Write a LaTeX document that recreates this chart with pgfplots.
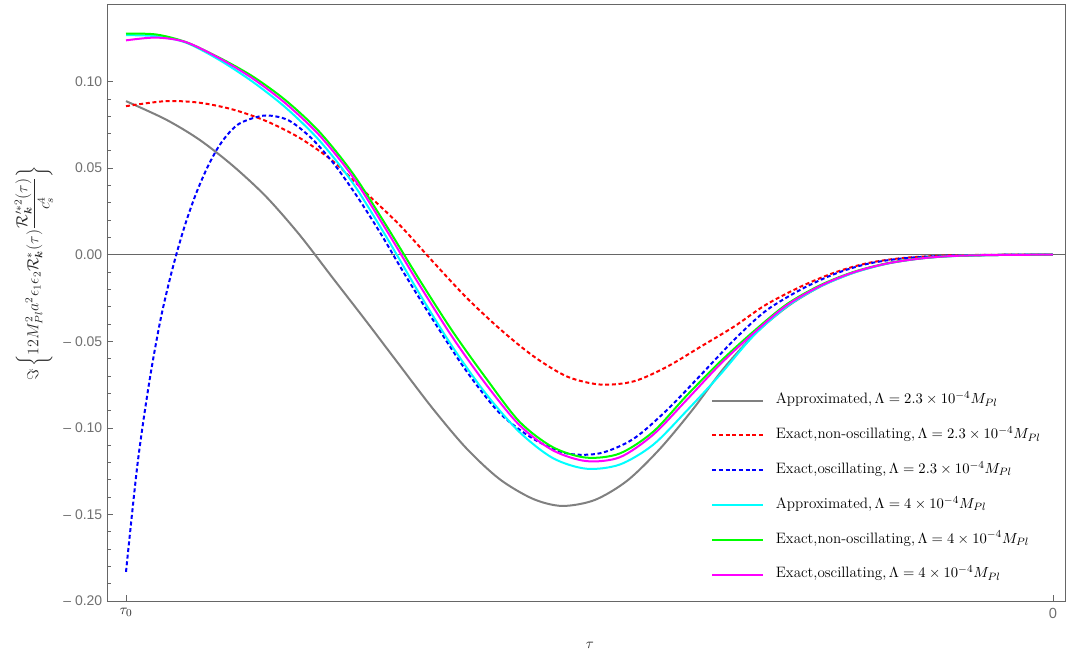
\documentclass[border=0pt]{standalone}
\usepackage{amsmath,amssymb}
\usepackage{pgfplots}
\pgfplotsset{compat=1.18}
\usepackage{fontspec}
\newfontfamily\tickfont{Liberation Sans}
\definecolor{framegray}{RGB}{102,102,102}
\definecolor{tickgray}{RGB}{112,112,112}
\definecolor{curvegray}{RGB}{128,128,128}
\definecolor{textdark}{RGB}{40,40,40}
\definecolor{cRed}{RGB}{255,0,0}
\definecolor{cBlue}{RGB}{0,0,255}
\definecolor{cCyan}{RGB}{0,255,255}
\definecolor{cGreen}{RGB}{0,255,0}
\definecolor{cMagenta}{RGB}{255,0,255}

\pgfplotsset{
  solidcurve/.style={line width=1.5pt, smooth},
  dashcurve/.style={line width=1.5pt, smooth, dash pattern=on 3pt off 2pt},
}

\begin{document}
\begin{tikzpicture}
\useasboundingbox (-80.25pt,-42pt) rectangle (719.25pt,450.75pt);
\begin{axis}[
  scale only axis,
  width=718.5pt, height=447.75pt,
  xmin=-0.0205, xmax=1.013,
  ymin=-0.2, ymax=0.1448,
  axis line style={framegray, line width=0.6pt},
  tick pos=left,
  tick align=inside,
  tick style={framegray, line width=0.5pt},
  major tick length=4.5pt,
  minor tick length=2.8pt,
  xtick={0,1},
  xticklabels={{\color{textdark}$\tau_0$}, {\color{tickgray}\tickfont 0}},
  xticklabel style={font=\fontsize{11}{13}\selectfont, yshift=-2pt},
  ytick={-0.2,-0.15,-0.1,-0.05,0,0.05,0.1},
  yticklabels={\textendash\ 0.20, \textendash\ 0.15, \textendash\ 0.10, \textendash\ 0.05, 0.00, 0.05, 0.10},
  yticklabel style={font=\tickfont\fontsize{10.5}{12}\selectfont, text=tickgray},
  minor y tick num=4,
  extra y ticks={0},
  extra y tick labels={},
  extra y tick style={grid=major, major grid style={framegray, line width=0.5pt}, major tick length=0pt},
  every axis y label/.style={at={(axis description cs:-0.0762,0.549)}, rotate=90, anchor=center},
  every axis x label/.style={at={(axis description cs:0.504,-0.0737)}, anchor=center},
  ylabel={\color{textdark}\fontsize{11.5}{14}\selectfont$\Im\left\{12M_{Pl}^2a^2\epsilon_1\epsilon_2\mathcal{R}_{\boldsymbol{k}}^*(\tau)\dfrac{\mathcal{R}_{\boldsymbol{k}}^{\prime *2}(\tau)}{c_s^4}\right\}$},
  xlabel={\color{textdark}\fontsize{11}{13}\selectfont$\tau$},
  legend cell align=left,
  legend image code/.code={\draw[#1] plot coordinates {(0pt,0pt) (19pt,0pt) (38pt,0pt)};},
  legend style={
    at={(axis description cs:0.6263,0.190)}, anchor=west,
    draw=none, fill=none,
    font=\fontsize{11.3}{13}\selectfont,
    row sep=15.1pt,
    nodes={inner sep=0pt, text height=8pt, text depth=3pt},
    /tikz/every odd column/.append style={column sep=9pt},
  },
]

% Approximated, Lambda = 2.3e-4 M_Pl
\addplot[curvegray, solidcurve] coordinates {
(0,0.0887)(0.043,0.0781)(0.079,0.0665)(0.115,0.0515)(0.1512,0.0335)
(0.1872,0.0115)(0.223,-0.0134)(0.259,-0.0383)(0.295,-0.0637)(0.331,-0.0889)
(0.367,-0.1117)(0.403,-0.1296)(0.439,-0.1410)(0.4705,-0.1451)(0.5055,-0.1417)
(0.5405,-0.1306)(0.5755,-0.1124)(0.6105,-0.0900)(0.6455,-0.0652)(0.6805,-0.0447)
(0.7155,-0.0292)(0.7505,-0.0180)(0.7855,-0.0103)(0.8205,-0.0052)(0.8555,-0.0023)
(0.8905,-0.0008)(0.95,-0.0001)(1,0)
};
\addlegendentry{Approximated$,\Lambda=2.3\times10^{-4}M_{Pl}$}

% Exact, non-oscillating, Lambda = 2.3e-4 M_Pl
\addplot[cRed, dashcurve] coordinates {
(0,0.0858)(0.043,0.0887)(0.079,0.0878)(0.115,0.0839)(0.1512,0.0772)
(0.1872,0.0675)(0.2233,0.054)(0.2594,0.0355)(0.2955,0.0170)(0.3316,-0.0043)
(0.3677,-0.0250)(0.4038,-0.0431)(0.44,-0.0588)(0.476,-0.0704)(0.512,-0.0750)
(0.548,-0.0731)(0.584,-0.0646)(0.62,-0.0531)(0.656,-0.0415)(0.69,-0.0290)
(0.7284,-0.0183)(0.765,-0.0102)(0.8005,-0.0048)(0.84,-0.0018)(0.89,-0.0004)(0.95,0)(1,0)
};
\addlegendentry{Exact,non-oscillating$,\Lambda=2.3\times10^{-4}M_{Pl}$}

% Exact, oscillating, Lambda = 2.3e-4 M_Pl
\addplot[cBlue, dashcurve] coordinates {
(0,-0.1832)(0.0125,-0.1206)(0.025,-0.0739)(0.0375,-0.0368)(0.05,-0.0084)
(0.0625,0.0152)(0.075,0.0345)(0.0875,0.0501)(0.1,0.0625)(0.1125,0.0712)
(0.125,0.0765)(0.15,0.0804)(0.175,0.0777)(0.2,0.0673)(0.225,0.0520)
(0.25,0.0331)(0.275,0.0120)(0.3,-0.0107)(0.331,-0.0375)(0.367,-0.0670)
(0.403,-0.0914)(0.439,-0.1062)(0.475,-0.1147)(0.511,-0.1147)(0.547,-0.1065)
(0.583,-0.0900)(0.62,-0.0695)(0.656,-0.0492)(0.69,-0.0325)(0.7284,-0.020)
(0.765,-0.011)(0.8005,-0.0052)(0.84,-0.002)(0.89,-0.0005)(0.95,0)(1,0)
};
\addlegendentry{Exact,oscillating$,\Lambda=2.3\times10^{-4}M_{Pl}$}

% Approximated, Lambda = 4e-4 M_Pl
\addplot[cCyan, solidcurve] coordinates {
(0,0.1268)(0.0325,0.1262)(0.0646,0.1225)(0.1006,0.1125)(0.1366,0.0999)
(0.1726,0.0848)(0.2086,0.0660)(0.2446,0.0415)(0.2806,0.0105)(0.3166,-0.0225)
(0.3526,-0.0535)(0.3886,-0.0805)(0.4246,-0.1025)(0.4606,-0.1175)(0.4966,-0.1236)
(0.5326,-0.1212)(0.5686,-0.1098)(0.6046,-0.0903)(0.6406,-0.0695)(0.6766,-0.0470)
(0.7126,-0.0300)(0.7486,-0.0185)(0.7846,-0.0105)(0.8206,-0.0052)(0.8566,-0.0022)
(0.8926,-0.0008)(0.95,-0.0001)(1,0)
};
\addlegendentry{Approximated$,\Lambda=4\times10^{-4}M_{Pl}$}

% Exact, non-oscillating, Lambda = 4e-4 M_Pl
\addplot[cGreen, solidcurve] coordinates {
(0,0.1277)(0.0325,0.1272)(0.0646,0.1228)(0.1006,0.1138)(0.1366,0.1030)
(0.1726,0.0890)(0.2086,0.0710)(0.2446,0.0470)(0.2806,0.0170)(0.3166,-0.0145)
(0.3526,-0.0445)(0.3886,-0.0715)(0.4246,-0.0965)(0.4606,-0.1112)(0.4966,-0.1172)
(0.5326,-0.1148)(0.5686,-0.1023)(0.6046,-0.0815)(0.6406,-0.0620)(0.6766,-0.0445)
(0.7126,-0.0287)(0.7486,-0.0177)(0.7846,-0.0100)(0.8206,-0.0050)(0.8566,-0.0021)
(0.8926,-0.0007)(0.95,-0.0001)(1,0)
};
\addlegendentry{Exact,non-oscillating$,\Lambda=4\times10^{-4}M_{Pl}$}

% Exact, oscillating, Lambda = 4e-4 M_Pl
\addplot[cMagenta, solidcurve] coordinates {
(0,0.1238)(0.0325,0.1254)(0.0646,0.1228)(0.1006,0.1135)(0.1366,0.1018)
(0.1726,0.0872)(0.2086,0.0690)(0.2446,0.0450)(0.2806,0.0145)(0.3166,-0.0175)
(0.3526,-0.0480)(0.3886,-0.0750)(0.4246,-0.0985)(0.4606,-0.1130)(0.4966,-0.1192)
(0.5326,-0.1170)(0.5686,-0.1040)(0.6046,-0.0840)(0.6406,-0.0635)(0.6766,-0.0455)
(0.7126,-0.0293)(0.7486,-0.0181)(0.7846,-0.0102)(0.8206,-0.0051)(0.8566,-0.0022)
(0.8926,-0.0007)(0.95,-0.0001)(1,0)
};
\addlegendentry{Exact,oscillating$,\Lambda=4\times10^{-4}M_{Pl}$}

\end{axis}
\end{tikzpicture}
\end{document}
